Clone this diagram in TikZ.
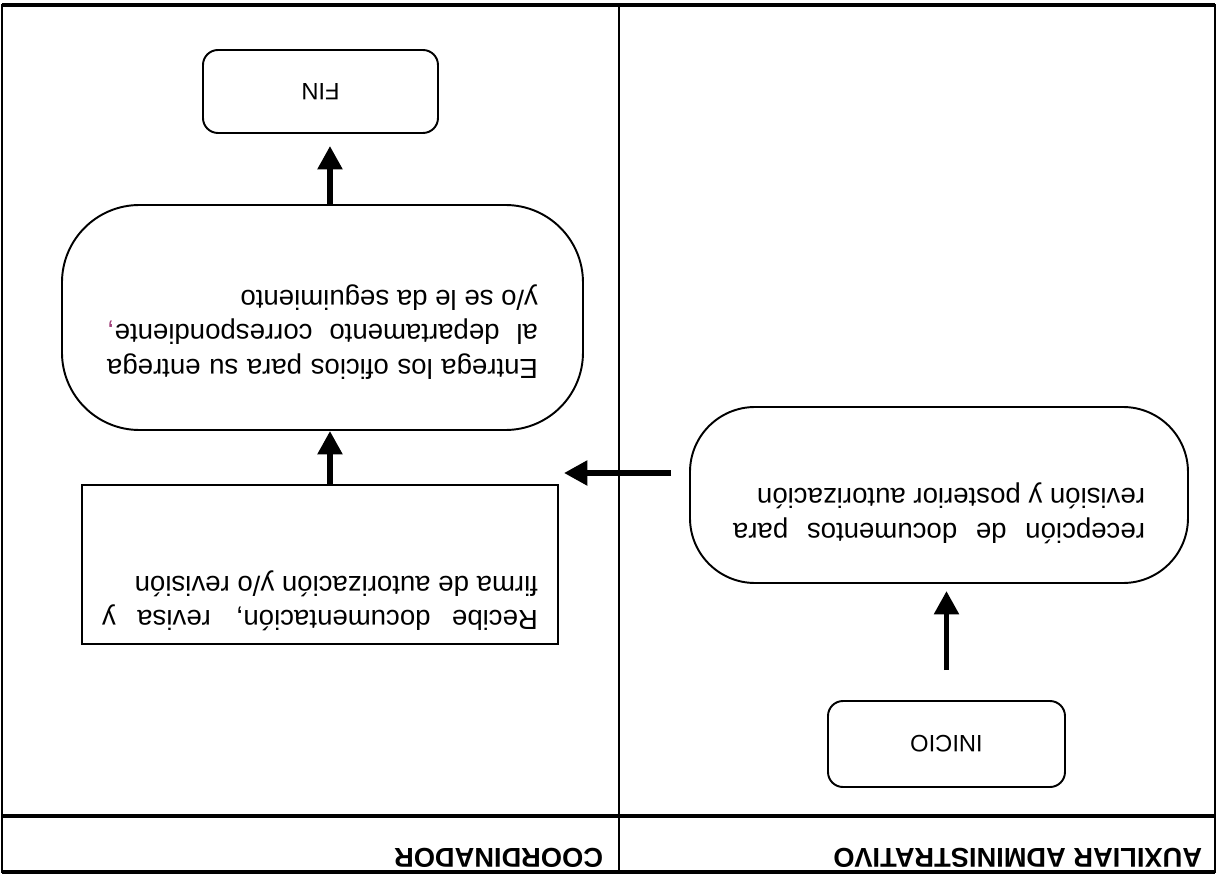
\documentclass[tikz,border=0pt]{standalone}
\usepackage{fontspec}
\setmainfont{Liberation Sans}
\usepackage{xcolor}
\usetikzlibrary{arrows.meta}
\definecolor{comarosa}{HTML}{A0407A}
\tolerance=10000

\begin{document}
\begin{tikzpicture}[
    rotate=180, transform shape,
    line width=1.1pt,
    texto/.style={font=\fontsize{15.7pt}{19.35pt}\selectfont},
    terminal/.style={draw, rounded corners=0.3cm, font=\fontsize{13.5pt}{16pt}\selectfont},
    proceso/.style={draw, texto, align=justify, inner ysep=0.1cm, text height=0.5cm},
    ovalo/.style={proceso, rounded corners=#1},
    flecha/.style={line width=3.2pt, -{Triangle[length=0.47cm,width=0.48cm]}},
    carril/.style={font=\fontsize{15.5pt}{18pt}\selectfont\bfseries, anchor=base west, inner sep=0pt}
  ]
  \useasboundingbox (0,0) rectangle (24.34,-17.54);

  % carriles
  \draw (0.04,-0.1) rectangle (24.3,-17.44);
  \draw[line width=1.8pt] (0.04,-0.1) -- (24.3,-0.1);
  \draw[line width=1.8pt] (0.04,-1.22) -- (24.3,-1.22);
  \draw[line width=1.8pt] (0.04,-17.44) -- (24.3,-17.44);
  \draw (11.96,-0.1) -- (11.96,-17.44);
  \node[carril] (auxiliar) at (0.28,-0.58) {AUXILIAR ADMINISTRATIVO};
  \node[carril] (coordinador) at (12.26,-0.58) {COORDINADOR};

  % pasos
  \node[terminal, minimum width=4.74cm, minimum height=1.72cm] (inicio) at (5.41,-2.66) {INICIO};
  \node[
    ovalo=1.3cm,
    text width=8.24cm,
    text depth=1.62cm,
    minimum width=9.96cm,
    minimum height=3.52cm
  ] (recepcion) at (5.56,-7.64) {recepción de documentos para\linebreak revisión y posterior autorización};
  \node[
    proceso,
    text width=8.72cm,
    text depth=2.32cm,
    minimum width=9.52cm,
    minimum height=3.18cm
  ] (recibe) at (17.94,-6.25) {Recibe documentación, revisa y\linebreak firma de autorización y/o revisión};
  \node[
    ovalo=1.55cm,
    text width=8.62cm,
    text depth=2.16cm,
    minimum width=10.42cm,
    minimum height=4.5cm
  ] (entrega) at (17.89,-11.19) {Entrega los oficios para su entrega\linebreak al departamento correspondiente\textcolor{comarosa}{,}\linebreak y/o se le da seguimiento};
  \node[terminal, minimum width=4.7cm, minimum height=1.66cm] (fin) at (17.93,-15.71) {FIN};

  % flechas
  \coordinate (ejeflecha) at (17.74,0);
  \coordinate (nivelflecha) at (0,-8.08);
  \draw[flecha, shorten <=0.6cm, shorten >=0.14cm] (inicio.south) -- (inicio.south |- recepcion.north);
  \draw[flecha, shorten <=0.36cm, shorten >=0.1cm] (recepcion.east |- nivelflecha) -- (recibe.west |- nivelflecha);
  \draw[flecha] (ejeflecha |- recibe.south) -- (ejeflecha |- entrega.north);
  \draw[flecha, shorten >=0.24cm] (ejeflecha |- entrega.south) -- (ejeflecha |- fin.north);
\end{tikzpicture}
\end{document}
